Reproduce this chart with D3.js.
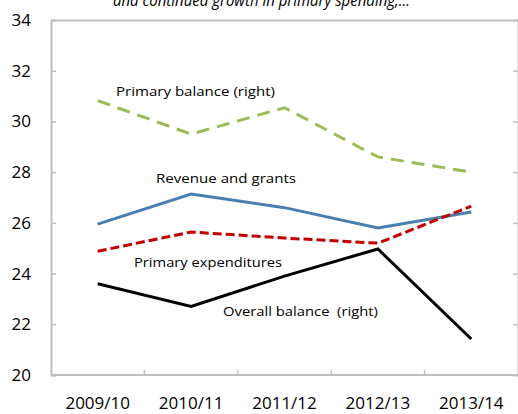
<!DOCTYPE html>
<html><head><meta charset="utf-8">
<script src="https://cdn.jsdelivr.net/npm/d3@7"></script>
<style>body{margin:0;background:#fff}svg{display:block}</style>
</head><body><svg id="c" width="518" height="414"></svg>
<script>
const categories = ["2009/10","2010/11","2011/12","2012/13","2013/14"];
const revenue = [25.95, 27.14, 26.6, 25.8, 26.43];
const primaryExp = [24.88, 25.64, 25.4, 25.2, 26.66];
const overallBalance = [23.6, 22.7, 23.9, 24.97, 21.42];
const primaryBalance = [30.82, 29.5, 30.54, 28.6, 28.0];
const yTicks = [20,22,24,26,28,30,32,34];
const title = "and continued growth in primary spending,...";

const svg = d3.select("#c");
const L = 51, R = 518, T = 20, B = 375;
const x = d3.scaleBand().domain(categories).range([L, R]);
const y = d3.scaleLinear().domain([20, 34]).range([B, T]);
const gray = "#bfbfbf";
const font = "'Open Sans', sans-serif";

// title (cut off at top, as in the reference)
svg.append("text").attr("x", 113).attr("y", 6)
  .attr("font-family", font).attr("font-style","italic").attr("font-size", 16)
  .attr("textLength", 297).attr("lengthAdjust","spacingAndGlyphs")
  .attr("fill","#000").text(title);

// frame top line
svg.append("line").attr("x1", L).attr("x2", R).attr("y1", T+0.5).attr("y2", T+0.5)
  .attr("stroke", gray).attr("stroke-width", 2);

// left axis
const ya = svg.append("g").attr("transform", `translate(${L},0)`)
  .call(d3.axisRight(y).tickValues(yTicks).tickSize(5).tickFormat(""));
ya.select(".domain").attr("stroke", gray).attr("stroke-width", 2);
ya.selectAll(".tick line").attr("stroke", gray).attr("stroke-width", 1.5);
svg.append("g").selectAll("text").data(yTicks).join("text")
  .attr("x", 31).attr("y", d => y(d)).attr("dy","0.35em").attr("text-anchor","end")
  .attr("font-family", font).attr("font-size", 17).attr("fill","#000").text(d => d);

// right axis (edge)
const yr = svg.append("g").attr("transform", `translate(${R},0)`)
  .call(d3.axisLeft(y).tickValues(yTicks.slice(1,-1)).tickSize(5).tickFormat(""));
yr.select(".domain").attr("stroke", gray).attr("stroke-width", 2);
yr.selectAll(".tick line").attr("stroke", gray).attr("stroke-width", 1.5);

// bottom axis
const bounds = categories.slice(1).map(c => x(c));
svg.append("line").attr("x1", L).attr("x2", R).attr("y1", B).attr("y2", B)
  .attr("stroke", gray).attr("stroke-width", 2);
svg.append("g").selectAll("line").data(bounds).join("line")
  .attr("x1", d => d).attr("x2", d => d).attr("y1", B).attr("y2", B-5)
  .attr("stroke", gray).attr("stroke-width", 1.5);
svg.append("g").selectAll("text").data(categories).join("text")
  .attr("x", d => x(d) + x.bandwidth()/2).attr("y", 403).attr("dy","0.35em")
  .attr("text-anchor","middle").attr("font-family", font).attr("font-size", 17)
  .attr("fill","#000").text(d => d);

const line = d3.line().x((d,i) => x(categories[i]) + x.bandwidth()/2).y(d => y(d));
const series = [
  {v: primaryBalance, c: "#9bbb59", dash: "13,8"},
  {v: revenue, c: "#4a7eb0", dash: null},
  {v: overallBalance, c: "#000000", dash: null},
  {v: primaryExp, c: "#c00000", dash: "9,4"},
];
series.forEach(s => {
  svg.append("path").attr("d", line(s.v)).attr("fill","none")
    .attr("stroke", s.c).attr("stroke-width", 3)
    .attr("stroke-dasharray", s.dash);
});

const labels = [
  {t:"Primary balance (right)", x:116, y:91, w:159},
  {t:"Revenue and grants", x:156, y:178, w:140},
  {t:"Primary expenditures", x:134, y:262, w:148},
  {t:"Overall balance  (right)", x:223, y:311, w:155},
];
labels.forEach(l => {
  svg.append("text").attr("x", l.x).attr("y", l.y).attr("dy","0.35em")
    .attr("font-family", font).attr("font-size", 13.5).attr("fill","#000")
    .attr("textLength", l.w).attr("lengthAdjust","spacingAndGlyphs")
    .attr("xml:space","preserve").style("white-space","pre").text(l.t);
});
</script></body></html>
